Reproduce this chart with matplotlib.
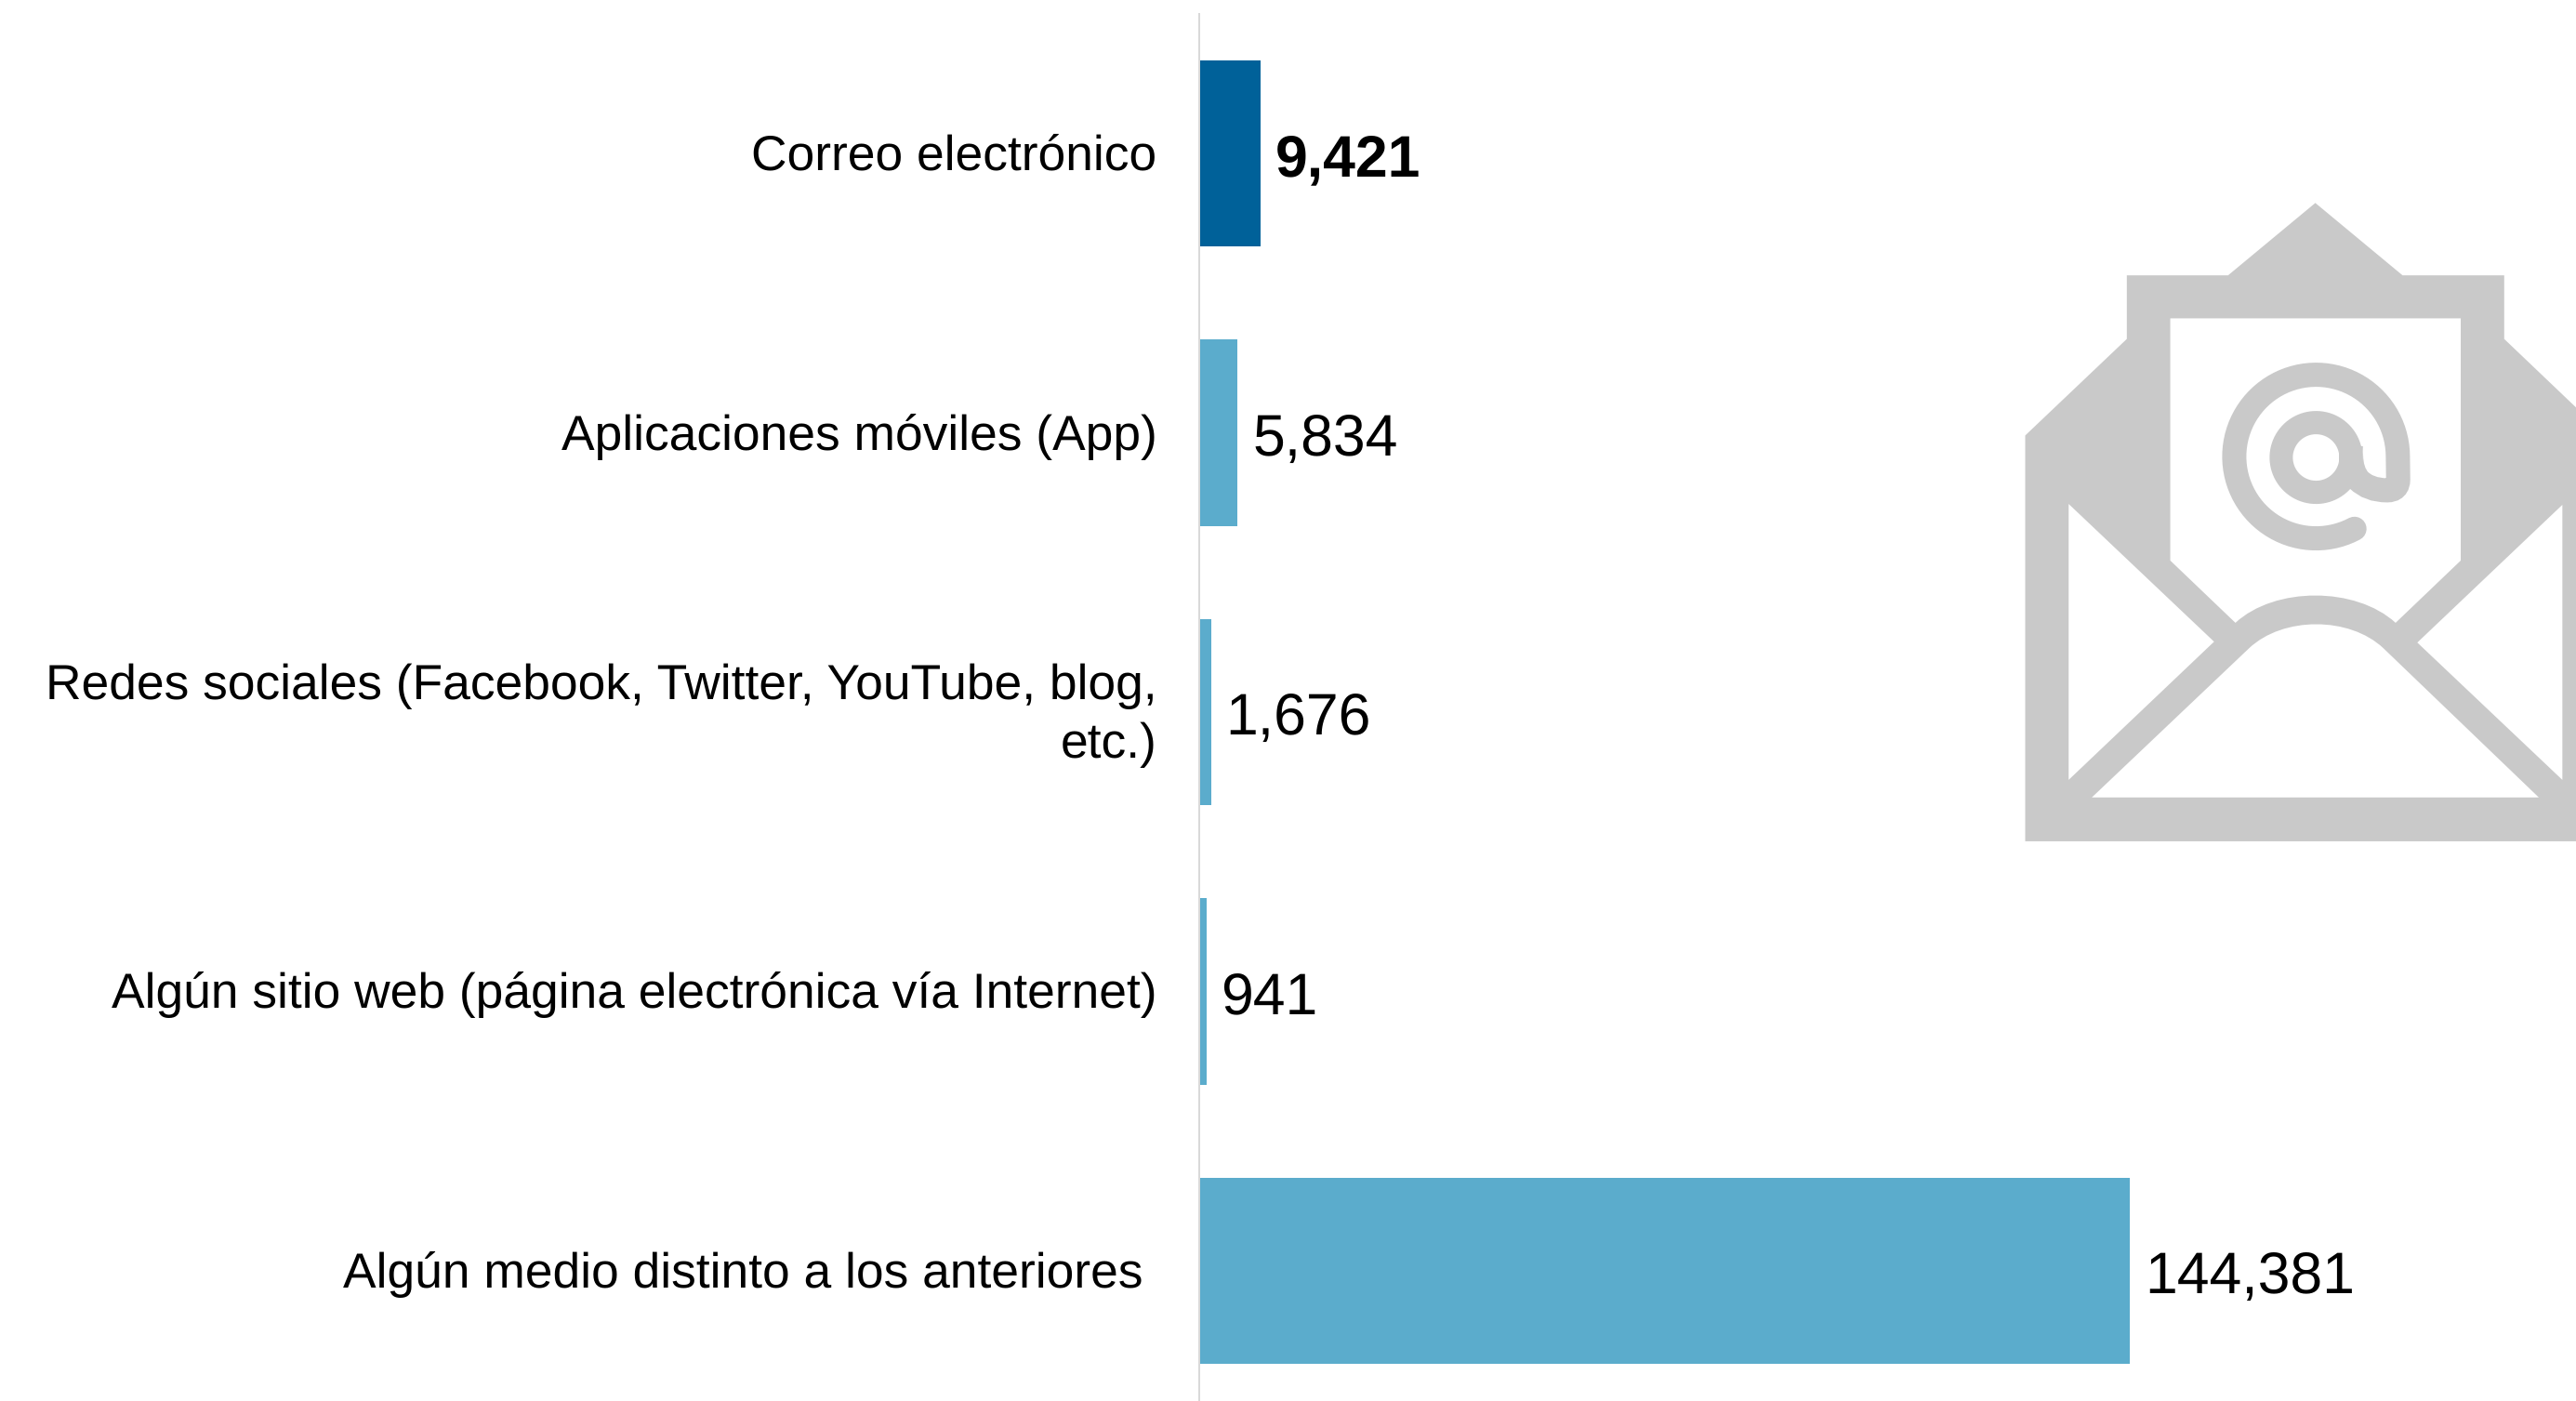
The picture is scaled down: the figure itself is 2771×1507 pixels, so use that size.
import numpy as np
import matplotlib.pyplot as plt
from matplotlib.path import Path
from matplotlib.patches import PathPatch

plt.rcParams['font.family'] = ['Liberation Sans', 'DejaVu Sans']
plt.rcParams['text.hinting'] = 'no_hinting'

categories = [
    'Correo electrónico',
    'Aplicaciones móviles (App)',
    'Redes sociales (Facebook, Twitter, YouTube, blog,\netc.)',
    'Algún sitio web (página electrónica vía Internet)',
    'Algún medio distinto a los anteriores ',
]
values = [9421, 5834, 1676, 941, 144381]
value_labels = ['9,421', '5,834', '1,676', '941', '144,381']
bar_colors = ['#006199', '#5BACCC', '#5BACCC', '#5BACCC', '#5BACCC']
label_weights = ['bold', 'normal', 'normal', 'normal', 'normal']

W, H = 2771, 1507
GRAY = '#C9C9C9'

fig = plt.figure(figsize=(W / 100, H / 100), dpi=100, facecolor='white')

# Bars: axes runs from the vertical line to the right edge
ax = fig.add_axes([1291 / W, 0, (W - 1291) / W, (H - 15) / H])
ypos = np.arange(len(values))
ax.barh(ypos, values, height=0.667, color=bar_colors)
ax.set_xlim(0, (W - 1291) / 0.006926)
ax.set_ylim(4.466, -0.5)
ax.set_yticks([])
ax.set_xticks([])
for s in ['top', 'right', 'bottom']:
    ax.spines[s].set_visible(False)
ax.spines['left'].set_color('#D9D9D9')
ax.spines['left'].set_linewidth(1.44)
ax.spines['left'].set_position(('outward', 0.72))

# Category labels, right aligned left of the line
for y, cat in zip(ypos, categories):
    ax.annotate(cat, (0, y), xytext=(-33.5, -2.8), textcoords='offset points', annotation_clip=False,
                va='center', ha='right', fontsize=38.4, color='black', linespacing=1.34)

# Value labels
for y, v, txt, w in zip(ypos, values, value_labels, label_weights):
    ax.annotate(txt, (v, y), xytext=(11.5, -6.5), textcoords='offset points',
                va='center', ha='left', fontsize=45, fontweight=w, color='black')

# Envelope icon, drawn in pixel coordinates on an overlay axes
ov = fig.add_axes([0, 0, 1, 1], facecolor='none')
ov.set_xlim(0, W)
ov.set_ylim(H, 0)
ov.axis('off')


def px(pts):
    return [(2150 + x / 2.525, 190 + y / 2.119) for x, y in pts]


def poly(pts, color, z):
    ov.fill(*zip(*px(pts)), color=color, lw=0, zorder=z)


outer = [(72, 1515), (72, 590), (348, 370), (348, 225), (623, 225), (860, 60),
         (1097, 225), (1373, 225), (1373, 370), (1648, 590), (1648, 1515)]
poly(outer, GRAY, 1)

poly([(190, 746), (585, 1060), (190, 1375)], 'white', 2)
poly([(1531, 748), (1137, 1062), (1531, 1375)], 'white', 2)

# paper
p = px([(466, 323), (1255, 323), (1255, 875), (1078, 1017), (970, 934), (750, 934), (643, 1017), (466, 875), (466, 323)])
ov.add_patch(PathPatch(Path(p, [Path.MOVETO, Path.LINETO, Path.LINETO, Path.LINETO, Path.CURVE4, Path.CURVE4,
                                Path.CURVE4, Path.LINETO, Path.CLOSEPOLY]), fc='white', lw=0, zorder=2))

# front flap
p = px([(253, 1415), (680, 1075), (772, 1002), (953, 1002), (1045, 1075), (1467, 1415), (253, 1415)])
ov.add_patch(PathPatch(Path(p, [Path.MOVETO, Path.LINETO, Path.CURVE4, Path.CURVE4, Path.CURVE4, Path.LINETO,
                                Path.CLOSEPOLY]), fc='white', lw=0, zorder=2))

# @ sign
cx, cy = px([(862, 638)])[0]
t = np.radians(np.linspace(62, 360, 80))
r = 88
lx = list(cx + r * np.cos(t))
ly = list(cy + r * np.sin(t))
tail = px([(1085, 690), (1085, 715), (1055, 715), (1005, 715), (975, 690)])
verts = list(zip(lx, ly)) + tail
codes = [Path.MOVETO] + [Path.LINETO] * (len(lx) - 1) + [Path.LINETO, Path.CURVE3, Path.CURVE3, Path.CURVE3, Path.CURVE3]
ov.add_patch(PathPatch(Path(verts, codes), fc='none', ec=GRAY, lw=26 * 0.72, capstyle='round', zorder=3))
t2 = np.radians(np.linspace(0, 360, 90))
ov.plot(cx + 37.5 * np.cos(t2), cy + 1 + 37.5 * np.sin(t2), color=GRAY, lw=25 * 0.72, zorder=3)

# fillet where the tail meets the inner ring
p = px([(990, 635), (990, 690), (1053, 690), (975, 720), (990, 635)])
ov.add_patch(PathPatch(Path(p, [Path.MOVETO, Path.CURVE3, Path.CURVE3, Path.LINETO, Path.CLOSEPOLY]),
                       fc=GRAY, lw=0, zorder=3))

fig.savefig('out.png', dpi=100)
